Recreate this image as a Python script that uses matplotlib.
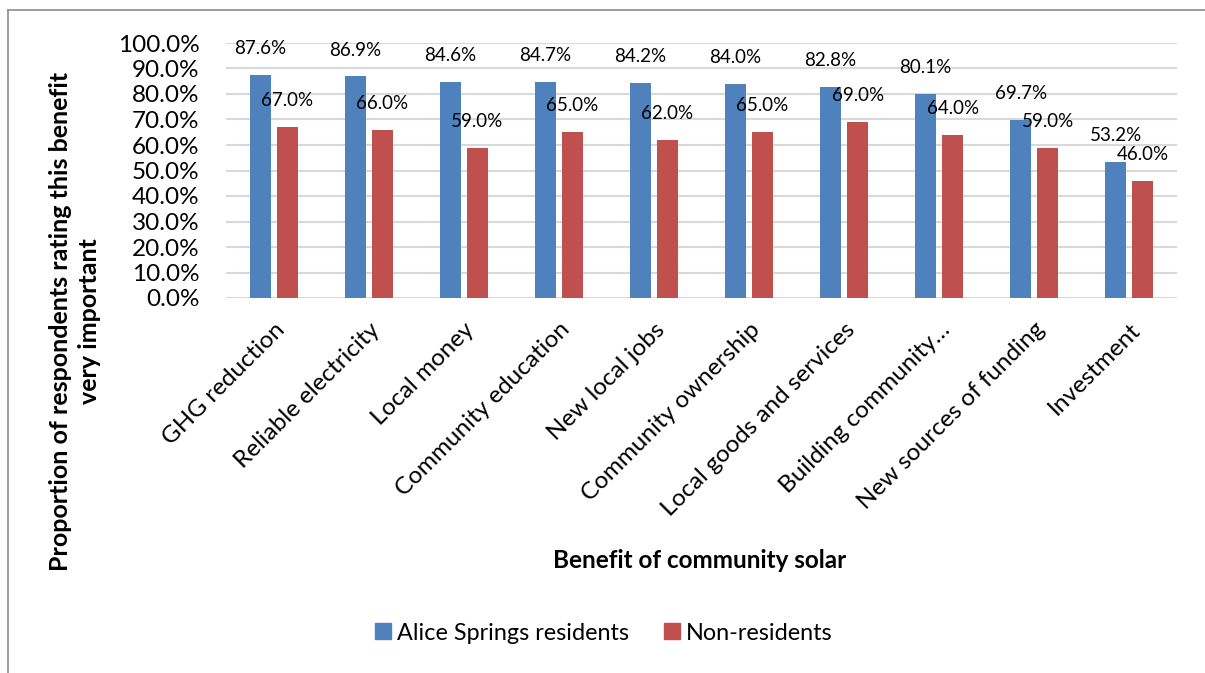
import numpy as np
import matplotlib
matplotlib.use("Agg")
import matplotlib.pyplot as plt
from matplotlib.lines import Line2D
from matplotlib.ticker import PercentFormatter

### Data ###
benefits = ["GHG reduction", "Reliable electricity", "Local money",
            "Community education", "New local jobs", "Community ownership",
            "Local goods and services", "Building community\u2026",
            "New sources of funding", "Investment"]
residents = [87.6, 86.9, 84.6, 84.7, 84.2, 84.0, 82.8, 80.1, 69.7, 53.2]
non_residents = [67.0, 66.0, 59.0, 65.0, 62.0, 65.0, 69.0, 64.0, 59.0, 46.0]

BLUE = "#4F81BD"
RED = "#C0504D"

plt.rcParams["font.family"] = ["Lato", "DejaVu Sans"]

fig = plt.figure(figsize=(12.05, 6.73), dpi=100)
ax = fig.add_axes([226 / 1205, 1 - 298 / 673, (1177 - 226) / 1205, (298 - 43) / 673])

x = np.arange(len(benefits))
w = 0.22
off = 0.142
b1 = ax.bar(x - off, residents, w, color=BLUE, label="Alice Springs residents", zorder=3)
b2 = ax.bar(x + off, non_residents, w, color=RED, label="Non-residents", zorder=3)

# value labels float a little above each bar
for bars, vals in ((b1, residents), (b2, non_residents)):
    for rect, v in zip(bars, vals):
        ax.annotate(f"{v:.1f}%", (rect.get_x() + rect.get_width() / 2, v),
                    xytext=(0, 19), textcoords="offset points",
                    ha="center", va="center", fontsize=13.5, zorder=4)

ax.set_xlim(-0.5, len(benefits) - 0.5)
ax.set_ylim(0, 100)
ax.set_yticks(np.arange(0, 101, 10))
ax.yaxis.set_major_formatter(PercentFormatter(decimals=1))
ax.grid(axis="y", color="#D9D9D9", linewidth=1.5, zorder=0)
for s in ax.spines.values():
    s.set_visible(False)
ax.tick_params(axis="both", length=0)
ax.tick_params(axis="y", labelsize=17.5, pad=19)

ax.set_xticks(x)
ax.set_xticklabels(benefits, rotation=45, ha="right", rotation_mode="anchor",
                   fontsize=17.5)
ax.tick_params(axis="x", pad=15)

fig.text(700 / 1205, 1 - 560 / 673, "Benefit of community solar",
         ha="center", va="center", fontsize=17.5, fontweight="bold")
fig.text(75 / 1205, 1 - 321 / 673,
         "Proportion of respondents rating this benefit\nvery important",
         ha="center", va="center", rotation=90, fontsize=18,
         fontweight="bold", linespacing=1.3)

handles = [Line2D([], [], marker="s", linestyle="none", markersize=11,
                  color=BLUE, label="Alice Springs residents"),
           Line2D([], [], marker="s", linestyle="none", markersize=11,
                  color=RED, label="Non-residents")]
fig.legend(handles=handles, loc="center", bbox_to_anchor=(603 / 1205, 1 - 633 / 673),
           ncol=2, frameon=False, fontsize=16.8, handletextpad=0.2,
           columnspacing=1.45, handlelength=0.8)

# chart frame
fig.add_artist(Line2D([8 / 1205, 8 / 1205], [0, 1 - 10 / 673], color="#8C8C8C",
                      linewidth=1.2, transform=fig.transFigure))
fig.add_artist(Line2D([8 / 1205, 1], [1 - 10 / 673, 1 - 10 / 673], color="#8C8C8C",
                      linewidth=1.2, transform=fig.transFigure))

fig.savefig("out.png", dpi=100)
